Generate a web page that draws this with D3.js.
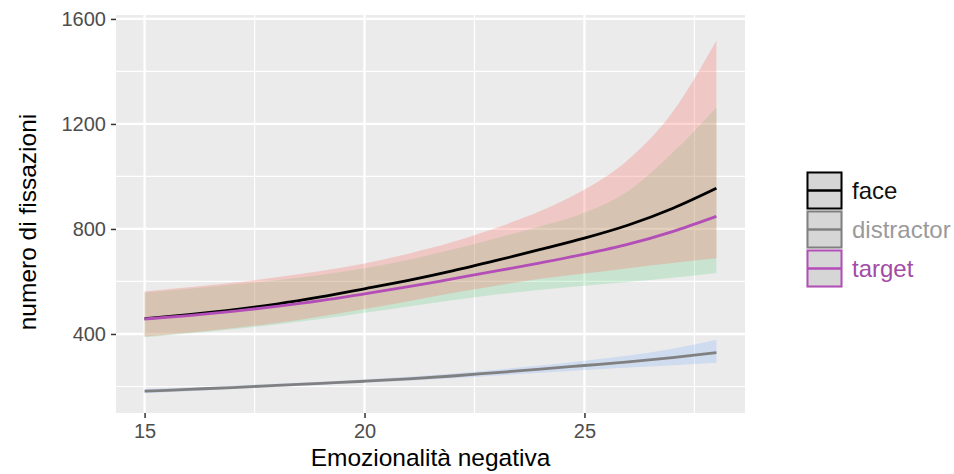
<!DOCTYPE html>
<html><head><meta charset="utf-8">
<script src="https://cdn.jsdelivr.net/npm/d3@7"></script>
<style>
body{margin:0;background:#fff;}
svg{display:block;font-family:"Liberation Sans",Arial,sans-serif;}
</style></head>
<body><svg id="chart" width="954" height="474"></svg>
<script>
const xValues = [15,16,17,18,19,20,21,22,23,24,25,26,27,28];
const faceFit = [458,474,492,514,541,572,604,640,680,722,765,815,878,955];
const faceLo  = [390,405,422,442,467,495,525,556,584,610,630,650,670,688];
const faceHi  = [562,578,595,616,640,668,706,750,805,868,950,1065,1245,1518];
const targetFit = [457,470,486,505,527,553,580,610,640,671,704,742,790,848];
const targetLo  = [388,402,418,436,457,481,505,528,550,568,584,598,614,632];
const targetHi  = [558,572,588,605,625,650,683,722,765,810,862,945,1090,1263];
const distractorFit = [182,189,196,204,212,220,229,240,253,266,280,294,310,329];
const distractorLo  = [174,182,190,198,206,214,222,231,242,252,263,272,281,290];
const distractorHi  = [190,196,203,210,218,227,237,249,264,280,298,318,344,378];
const seriesNames = ["face","distractor","target"];
const drawOrder = ["distractor","target","face"];
const xTicks = [15,20,25];
const xMinor = [17.5,22.5,27.5];
const yTicks = [400,800,1200,1600];
const yMinor = [200,600,1000,1400];
const xTitle = "Emozionalità negativa";
const yTitle = "numero di fissazioni";

const lineColors = {face:"#000000", distractor:"#808080", target:"#B34DB8"};
const textColors = {face:"#111111", distractor:"#9A9A9A", target:"#A24CA6"};
const fillColors = {face:"#F8766D", distractor:"#619CFF", target:"#00BA38"};
const fillOpacity = {face:0.3, distractor:0.2, target:0.15};

const series = {
  face: {fit:faceFit, lo:faceLo, hi:faceHi},
  distractor: {fit:distractorFit, lo:distractorLo, hi:distractorHi},
  target: {fit:targetFit, lo:targetLo, hi:targetHi}
};

const svg = d3.select("#chart");
const P = {l:116, r:745, t:15, b:413};
const x = d3.scaleLinear().domain([14.35,28.65]).range([P.l,P.r]);
const y = d3.scaleLinear().domain([99,1615]).range([P.b,P.t]);

svg.append("rect").attr("x",P.l).attr("y",P.t).attr("width",P.r-P.l).attr("height",P.b-P.t).attr("fill","#EBEBEB");

const grid = svg.append("g");
grid.selectAll(".xm").data(xMinor).join("line").attr("x1",d=>x(d)).attr("x2",d=>x(d)).attr("y1",P.t).attr("y2",P.b).attr("stroke","#fff").attr("stroke-width",1.2);
grid.selectAll(".ym").data(yMinor).join("line").attr("y1",d=>y(d)).attr("y2",d=>y(d)).attr("x1",P.l).attr("x2",P.r).attr("stroke","#fff").attr("stroke-width",1.2);
grid.selectAll(".xM").data(xTicks).join("line").attr("x1",d=>x(d)).attr("x2",d=>x(d)).attr("y1",P.t).attr("y2",P.b).attr("stroke","#fff").attr("stroke-width",2.3);
grid.selectAll(".yM").data(yTicks).join("line").attr("y1",d=>y(d)).attr("y2",d=>y(d)).attr("x1",P.l).attr("x2",P.r).attr("stroke","#fff").attr("stroke-width",2.3);

svg.append("clipPath").attr("id","clip").append("rect").attr("x",P.l).attr("y",P.t).attr("width",P.r-P.l).attr("height",P.b-P.t);
const plot = svg.append("g").attr("clip-path","url(#clip)");

const curve = d3.curveMonotoneX;
const area = d3.area().x(d=>x(d.x)).y0(d=>y(d.lo)).y1(d=>y(d.hi)).curve(curve);
const line = d3.line().x(d=>x(d.x)).y(d=>y(d.v)).curve(curve);

drawOrder.forEach(n=>{
  const s = series[n];
  const pts = xValues.map((xv,i)=>({x:xv, lo:s.lo[i], hi:s.hi[i]}));
  plot.append("path").attr("d",area(pts)).attr("fill",fillColors[n]).attr("fill-opacity",fillOpacity[n]);
});
seriesNames.forEach(n=>{
  const s = series[n];
  const pts = xValues.map((xv,i)=>({x:xv, v:s.fit[i]}));
  plot.append("path").attr("d",line(pts)).attr("fill","none").attr("stroke",lineColors[n]).attr("stroke-width",2.8);
});

// axes
const xAxis = svg.append("g").attr("transform",`translate(0,${P.b})`)
  .call(d3.axisBottom(x).tickValues(xTicks).tickFormat(d3.format("d")).tickSize(5).tickPadding(6));
const yAxis = svg.append("g").attr("transform",`translate(${P.l},0)`)
  .call(d3.axisLeft(y).tickValues(yTicks).tickFormat(d3.format("d")).tickSize(5).tickPadding(5));
[xAxis,yAxis].forEach(a=>{
  a.select(".domain").remove();
  a.selectAll(".tick line").attr("stroke","#333").attr("stroke-width",1.5);
  a.selectAll(".tick text").attr("fill","#4D4D4D").style("font-size","20px").style("font-family","'Liberation Sans',Arial,sans-serif");
});

svg.append("text").attr("x",(P.l+P.r)/2).attr("y",466).attr("text-anchor","middle")
  .style("font-size","24.5px").attr("fill","#000").text(xTitle);
svg.append("text").attr("transform",`translate(36,222) rotate(-90)`).attr("text-anchor","middle")
  .style("font-size","24.5px").attr("fill","#000").text(yTitle);

// legend
const keyX = 806, keyW = 37, keyH = 39, keyY0 = 171;
const leg = svg.append("g");
seriesNames.forEach((n,i)=>{
  const ky = keyY0 + i*keyH;
  leg.append("rect").attr("x",keyX).attr("y",ky).attr("width",keyW).attr("height",keyH).attr("fill","#F2F2F2");
  leg.append("rect").attr("x",keyX+1.5).attr("y",ky+1.5).attr("width",keyW-3).attr("height",keyH-3)
    .attr("fill","#D6D6D6").attr("stroke",lineColors[n]).attr("stroke-width",2);
  leg.append("line").attr("x1",keyX+1.5).attr("x2",keyX+keyW-1.5).attr("y1",ky+keyH/2).attr("y2",ky+keyH/2)
    .attr("stroke",lineColors[n]).attr("stroke-width",2.4);
  leg.append("text").attr("x",keyX+keyW+9).attr("y",ky+keyH/2+8).style("font-size","24px")
    .attr("fill",textColors[n]).text(n);
});
</script></body></html>
